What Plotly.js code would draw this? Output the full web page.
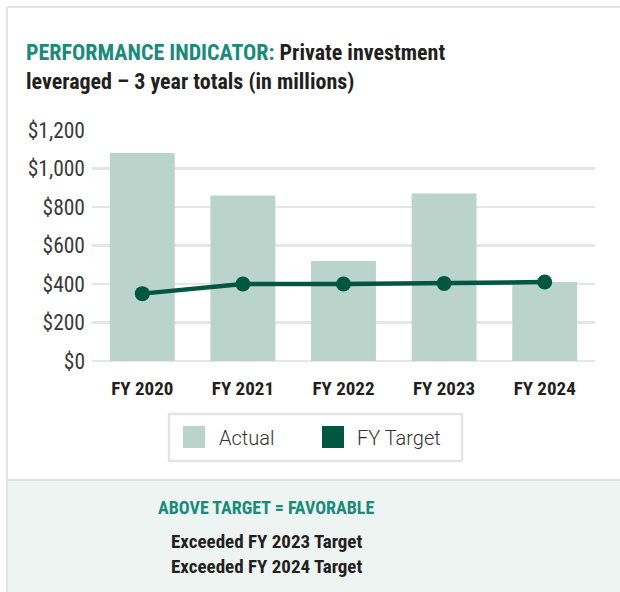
<!DOCTYPE html>
<html>
<head>
<meta charset="utf-8">
<script src="https://cdn.plot.ly/plotly-3.0.1.min.js"></script>
<style>html,body{margin:0;padding:0;background:#fff;}#chart{width:620px;height:592px;}</style>
</head>
<body>
<div id="chart"></div>
<script>
const categories = ["FY 2020", "FY 2021", "FY 2022", "FY 2023", "FY 2024"];
const actualValues = [1080, 860, 520, 870, 410];
const targetValues = [350, 400, 400, 403, 410];
const yTickValues = [0, 200, 400, 600, 800, 1000, 1200];
const yTickLabels = ["$0", "$200", "$400", "$600", "$800", "$1,000", "$1,200"];
const legendLabels = ["Actual", "FY Target"];
const footerHeading = "ABOVE TARGET = FAVORABLE";
const footerLines = ["Exceeded FY 2023 Target", "Exceeded FY 2024 Target"];

const W = 620, H = 592;
const L = 92, R = 595, T = 130, B = 361;
const px = v => (v - L) / (R - L);
const py = v => (B - v) / (B - T);

const NARROW = "'Roboto Condensed', 'Liberation Sans Narrow', sans-serif";
const REG = "Roboto, 'Liberation Sans', sans-serif";
const barColor = "#bad3cb";
const lineColor = "#00573f";
const teal = "#1a8a7a";
const dark = "#231f20";

const traces = [
  {type: "bar", x: categories, y: actualValues, name: legendLabels[0],
   marker: {color: barColor}, width: 0.645, showlegend: false, hoverinfo: "y"},
  {type: "scatter", mode: "lines+markers", x: categories, y: targetValues, name: legendLabels[1],
   line: {color: lineColor, width: 4.5}, marker: {color: lineColor, size: 15},
   showlegend: false, cliponaxis: false}
];

const shapes = [
  {type: "line", xref: "paper", yref: "paper", x0: px(7), x1: px(640), y0: py(7), y1: py(7), line: {color: "#e3e3e3", width: 2}, layer: "below"},
  {type: "line", xref: "paper", yref: "paper", x0: px(7), x1: px(7), y0: py(7), y1: py(600), line: {color: "#e3e3e3", width: 2}, layer: "below"},
  {type: "rect", xref: "paper", yref: "paper", x0: px(8), x1: px(640), y0: py(480), y1: py(600), fillcolor: "#eef4f2", line: {width: 0}, layer: "below"},
  {type: "line", xref: "paper", yref: "paper", x0: px(8), x1: px(640), y0: py(480), y1: py(480), line: {color: "#e0e0e0", width: 2}, layer: "below"},
  {type: "rect", xref: "paper", yref: "paper", x0: px(169), x1: px(462), y0: py(414), y1: py(461), fillcolor: "rgba(0,0,0,0)", line: {color: "#e4e4e4", width: 2.5}},
  {type: "rect", xref: "paper", yref: "paper", x0: px(183), x1: px(205), y0: py(426), y1: py(448), fillcolor: barColor, line: {width: 0}},
  {type: "rect", xref: "paper", yref: "paper", x0: px(322), x1: px(344), y0: py(426), y1: py(448), fillcolor: lineColor, line: {width: 0}}
];

const annotations = [
  {xref: "paper", yref: "paper", x: px(217), y: py(438), xanchor: "left", yanchor: "middle", showarrow: false,
   text: legendLabels[0], font: {family: REG, size: 20, color: "#333333", weight: 300}},
  {xref: "paper", yref: "paper", x: px(355), y: py(438), xanchor: "left", yanchor: "middle", showarrow: false,
   text: legendLabels[1], font: {family: REG, size: 20, color: "#333333", weight: 300}},
  {xref: "paper", yref: "paper", x: px(266), y: py(507), xanchor: "center", yanchor: "middle", showarrow: false,
   text: footerHeading, font: {family: NARROW, size: 18, color: teal, weight: "bold"}},
  {xref: "paper", yref: "paper", x: px(266), y: py(554), xanchor: "center", yanchor: "middle", showarrow: false,
   text: footerLines.join("<br>"), font: {family: NARROW, size: 19, color: dark, weight: "bold"}}
];

const layout = {
  width: W, height: H,
  margin: {l: L, r: W - R, t: T, b: H - B, pad: 0},
  paper_bgcolor: "#ffffff", plot_bgcolor: "rgba(0,0,0,0)",
  title: {
    text: '<span style="color:' + teal + '">PERFORMANCE INDICATOR:</span> Private investment<br>leveraged – 3 year totals (in millions)',
    x: 26 / W, xanchor: "left", xref: "container",
    y: 1 - 60 / H, yanchor: "top", yref: "container",
    font: {family: NARROW, size: 22, color: dark, weight: "bold"}
  },
  xaxis: {
    type: "category", categoryarray: categories, showgrid: false, zeroline: false, showline: false,
    ticks: "", ticklabelstandoff: 14,
    tickfont: {family: NARROW, size: 19, color: dark, weight: "bold"}, fixedrange: true
  },
  yaxis: {
    range: [0, 1200], tickvals: yTickValues, ticktext: yTickLabels,
    showgrid: true, gridcolor: "#e6e6e6", gridwidth: 2.5,
    zeroline: true, zerolinecolor: "#e6e6e6", zerolinewidth: 2.5, showline: false,
    ticks: "", ticklabelstandoff: 6,
    tickfont: {family: NARROW, size: 21.5, color: "#3a3a3a"}, fixedrange: true
  },
  bargap: 0.355,
  showlegend: false,
  shapes: shapes,
  annotations: annotations
};

Plotly.newPlot("chart", traces, layout, {displayModeBar: false, staticPlot: true});
</script>
</body>
</html>
